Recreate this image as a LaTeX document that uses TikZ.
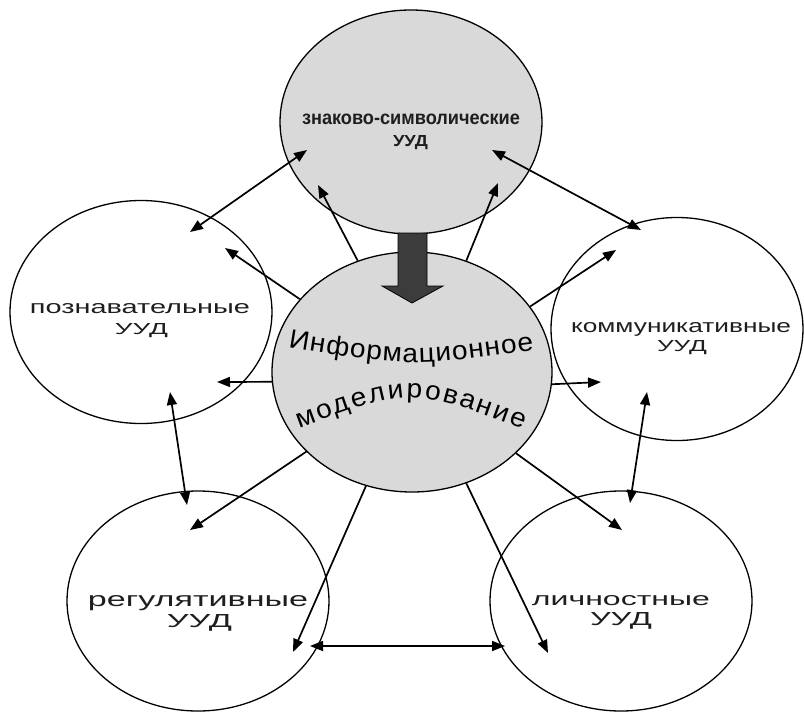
\documentclass[tikz,border=0pt]{standalone}
\usepackage{fontspec}
\usepackage{graphicx}
\setmainfont{Liberation Sans}
\newfontfamily\curvefam[FakeStretch=1.06]{Liberation Sans}
\usetikzlibrary{shapes.geometric,arrows.meta,decorations.text}
\definecolor{fillgray}{HTML}{D9D9D9}
\definecolor{arrowgray}{HTML}{3C3C3C}
\definecolor{txtcol}{HTML}{1E1E1E}
\newcommand\fitbox[3]{\resizebox{#1pt}{#2pt}{#3}}
\newcommand\curvefont{\curvefam\fontsize{26.5}{26.5}\selectfont}
\begin{document}
\begin{tikzpicture}[x=1pt,y=-1pt,
  bubble/.style={draw=black, line width=1.3pt, ellipse, inner sep=0pt},
  graybubble/.style={bubble, fill=fillgray},
  lbl/.style={text=txtcol, inner sep=0pt, anchor=base},
  link/.style={line width=1.7pt, -{Triangle[length=13pt,width=10pt]}},
  dlink/.style={line width=1.7pt, {Triangle[length=13pt,width=10pt]}-{Triangle[length=13pt,width=10pt]}},
]
\useasboundingbox (0,0) rectangle (804,713);

% ellipses
\node[bubble, minimum width=262pt, minimum height=223pt] (lf) at (141,312) {};
\node[bubble, minimum width=252pt, minimum height=223pt] (rt) at (677,329) {};
\node[bubble, minimum width=262pt, minimum height=220pt] (bl) at (198,601) {};
\node[bubble, minimum width=262pt, minimum height=220pt] (br) at (621,601) {};
\node[graybubble, minimum width=262pt, minimum height=224pt] (tp) at (411,122) {};
\node[graybubble, minimum width=280pt, minimum height=240pt] (cm) at (412,372) {};

% labels
\node[lbl] (tp1) at (411,124) {\fitbox{218}{10.5}{\bfseries знаково-символические}};
\node[lbl] (tp2) at (410.5,146) {\fitbox{35}{11}{\bfseries УУД}};
\node[lbl] (lf1) at (140,313) {\fitbox{220}{10}{познавательные}};
\node[lbl] (lf2) at (141.5,334) {\fitbox{53}{11}{УУД}};
\node[lbl] (rt1) at (681,332) {\fitbox{220}{10}{коммуникативные}};
\node[lbl] (rt2) at (682,351) {\fitbox{50}{11}{УУД}};
\node[lbl] (bl1) at (198,606) {\fitbox{220}{11}{регулятивные}};
\node[lbl] (bl2) at (199.5,627) {\fitbox{65}{13}{УУД}};
\node[lbl] (br1) at (621,605) {\fitbox{178}{10}{личностные}};
\node[lbl] (br2) at (621,625) {\fitbox{62}{13}{УУД}};

% curved title inside the centre circle
\path[decorate, decoration={text along path, text={|\curvefont|Информационное}, text align=fit to path}]
  (288,347) .. controls (411,367) .. (534,350);
\path[decorate, decoration={text along path, text={|\curvefont|моделирование}, text align=fit to path}]
  (299,428) .. controls (410,387) .. (523,429);

% big arrow from top ellipse to centre
\draw[fill=arrowgray, line width=0.8pt, line join=miter]
  (398,233) -- (427,233) -- (427,286) -- (443,286) -- (412,303) -- (382,286) -- (398,286) -- cycle;

% named end points
\coordinate (a1) at (307,150); \coordinate (a2) at (190,232);
\coordinate (b1) at (492,150); \coordinate (b2) at (641,230);
\coordinate (c2) at (318,185);
\coordinate (d2) at (498,183);
\coordinate (e2) at (225,248);
\coordinate (f2) at (217,382);
\coordinate (g1) at (170,392); \coordinate (g2) at (187,505);
\coordinate (h2) at (190,530);
\coordinate (i2) at (293,652);
\coordinate (j1) at (310,646); \coordinate (j2) at (505,646);
\coordinate (k2) at (548,653);
\coordinate (l2) at (622,530);
\coordinate (m1) at (647,392); \coordinate (m2) at (630,503);
\coordinate (n2) at (601,382);
\coordinate (o2) at (616,250);

% connectors
\draw[dlink] (a1) -- (a2);
\draw[dlink] (b1) -- (b2);
\draw[dlink] (g1) -- (g2);
\draw[dlink] (j1) -- (j2);
\draw[dlink] (m1) -- (m2);
\draw[link] (cm.116.6) -- (c2);
\draw[link] (cm.64.2) -- (d2);
\draw[link] (cm.147.2) -- (e2);
\draw[link] (cm.184) -- (f2);
\draw[link] (cm.217.3) -- (h2);
\draw[link] (cm.248) -- (i2);
\draw[link] (cm.296.4) -- (k2);
\draw[link] (cm.322.4) -- (l2);
\draw[link] (cm.355.9) -- (n2);
\draw[link] (cm.29.8) -- (o2);
\end{tikzpicture}
\end{document}
